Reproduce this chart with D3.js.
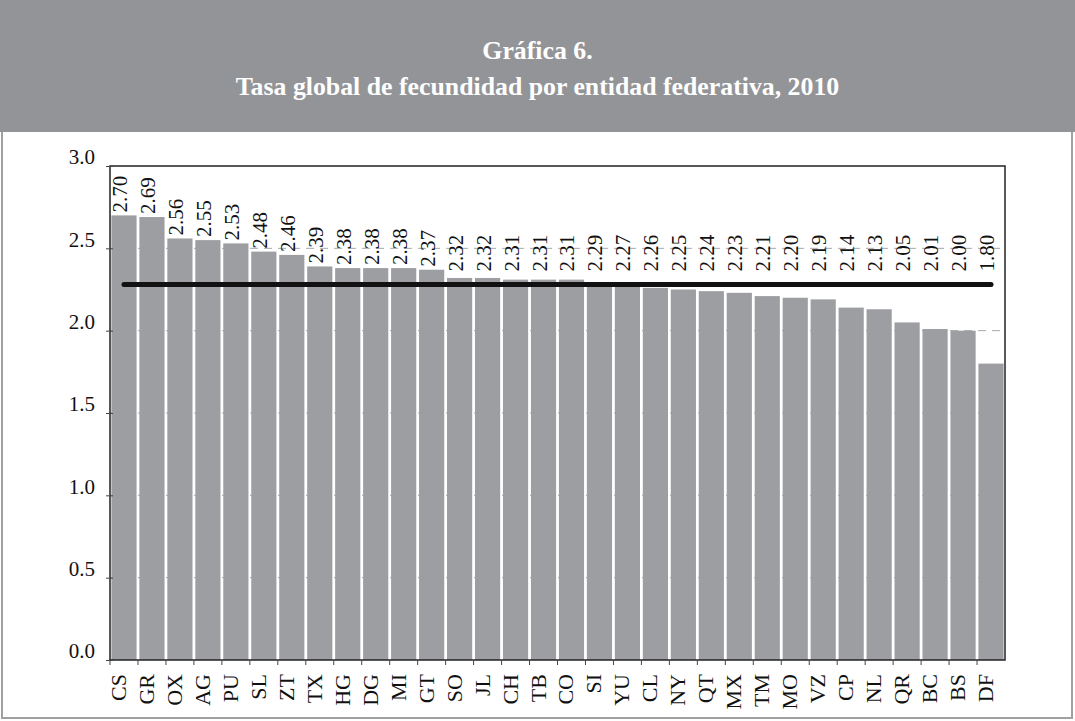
<!DOCTYPE html>
<html lang="es">
<head>
<meta charset="UTF-8">
<title>Gráfica 6</title>
<script src="https://cdn.jsdelivr.net/npm/d3@7"></script>
<style>
  body { margin: 0; background: #fff; }
  svg { display: block; font-family: "Liberation Serif", "DejaVu Serif", serif; }
</style>
</head>
<body>
<script>
// datos: tasa global de fecundidad por entidad, 2010
const states = ["CS","GR","OX","AG","PU","SL","ZT","TX","HG","DG","MI","GT","SO","JL","CH","TB",
                "CO","SI","YU","CL","NY","QT","MX","TM","MO","VZ","CP","NL","QR","BC","BS","DF"];
const tgf = [2.70,2.69,2.56,2.55,2.53,2.48,2.46,2.39,2.38,2.38,2.38,2.37,2.32,2.32,2.31,2.31,
             2.31,2.29,2.27,2.26,2.25,2.24,2.23,2.21,2.20,2.19,2.14,2.13,2.05,2.01,2.00,1.80];
const nationalTgf = 2.28;
const yTicks = [0, 0.5, 1.0, 1.5, 2.0, 2.5, 3.0];
const titleLines = ["Gráfica 6.", "Tasa global de fecundidad por entidad federativa, 2010"];

const width = 1075, height = 721;
const margin = {top: 166, right: 70, bottom: 61, left: 110};

const svg = d3.select("body").append("svg")
    .attr("width", width)
    .attr("height", height);

// header band
svg.append("rect")
    .attr("x", 0).attr("y", 0)
    .attr("width", width).attr("height", 132)
    .attr("fill", "#939497");

svg.selectAll(".title")
    .data(titleLines)
    .join("text")
    .attr("class", "title")
    .attr("x", width / 2)
    .attr("y", (d, i) => 59 + i * 36)
    .attr("text-anchor", "middle")
    .attr("fill", "#fff")
    .attr("font-weight", "bold")
    .attr("font-size", 25.8)
    .text(d => d);

// page frame
svg.append("path")
    .attr("d", `M2,132 V718 H1072 V132`)
    .attr("fill", "none")
    .attr("stroke", "#a0a0a0")
    .attr("stroke-width", 2);

const x = d3.scaleBand()
    .domain(states)
    .range([margin.left, width - margin.right])
    .paddingInner(0.1)
    .paddingOuter(0.05);

const y = d3.scaleLinear()
    .domain([0, 3])
    .range([height - margin.bottom, margin.top]);

const g = svg.append("g");

// dashed grid (behind the bars)
g.selectAll(".grid")
    .data(yTicks.filter(d => d > 0 && d < 3))
    .join("line")
    .attr("x1", margin.left).attr("x2", width - margin.right)
    .attr("y1", d => y(d)).attr("y2", d => y(d))
    .attr("stroke", "#a8a8a8")
    .attr("stroke-dasharray", "8,6");

g.selectAll(".bar")
    .data(tgf)
    .join("rect")
    .attr("x", (d, i) => x(states[i]))
    .attr("y", d => y(d))
    .attr("width", x.bandwidth())
    .attr("height", d => y(0) - y(d))
    .attr("fill", "#9d9ea2");

// national average line
g.append("line")
    .attr("x1", x(states[0]) + x.bandwidth() / 2)
    .attr("x2", x(states[states.length - 1]) + x.bandwidth() / 2)
    .attr("y1", y(nationalTgf)).attr("y2", y(nationalTgf))
    .attr("stroke", "#111")
    .attr("stroke-width", 5)
    .attr("stroke-linecap", "round");

// value labels, rotated; kept above the average line
const labelFloor = y(nationalTgf) - 13;
g.selectAll(".val")
    .data(tgf)
    .join("text")
    .attr("transform", (d, i) => `translate(${x(states[i]) + x.bandwidth() / 2 + 3},${Math.min(y(d) - 3, labelFloor)}) rotate(-90)`)
    .attr("font-size", 21)
    .attr("fill", "#111")
    .text(d => d.toFixed(2));

// plot frame
g.append("rect")
    .attr("x", margin.left).attr("y", margin.top)
    .attr("width", width - margin.right - margin.left)
    .attr("height", y(0) - margin.top)
    .attr("fill", "none")
    .attr("stroke", "#222")
    .attr("stroke-width", 1.5);

// y axis
const yAxis = svg.append("g")
    .attr("transform", `translate(${margin.left},0)`)
    .call(d3.axisLeft(y).tickValues(yTicks).tickSize(4).tickFormat(d3.format(".1f")));
yAxis.select(".domain").remove();
yAxis.selectAll(".tick line").attr("x2", -4).attr("x1", 3).attr("stroke", "#444");
yAxis.selectAll(".tick text")
    .attr("x", -15)
    .attr("dy", "-0.1em")
    .attr("font-size", 21)
    .attr("font-family", "Liberation Serif, serif")
    .attr("fill", "#111");

// x axis: ticks at band edges + rotated codes
const edges = states.map(s => x(s) - x.step() * x.paddingInner() / 2);
svg.selectAll(".xtick")
    .data(edges)
    .join("line")
    .attr("x1", d => d).attr("x2", d => d)
    .attr("y1", y(0)).attr("y2", y(0) + 5)
    .attr("stroke", "#444");

svg.selectAll(".xlab")
    .data(states)
    .join("text")
    .attr("transform", d => `translate(${x(d) + x.bandwidth() / 2 + 2},${y(0) + 14}) rotate(-90)`)
    .attr("text-anchor", "end")
    .attr("font-size", 22)
    .attr("fill", "#111")
    .text(d => d);
</script>
</body>
</html>
